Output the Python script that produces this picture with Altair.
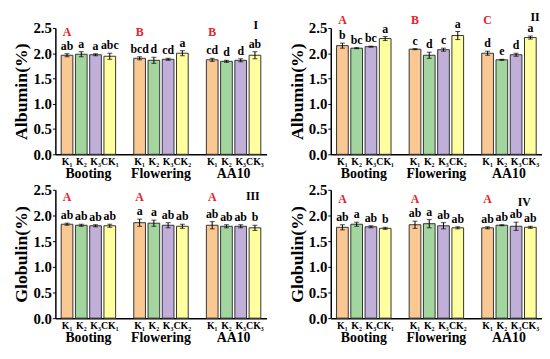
import altair as alt
import pandas as pd

groups = ["Booting", "Flowering", "AA10"]
treats = ["K1", "K2", "K3", "CK"]
colors = ["#F9C893", "#A3D69F", "#BFAFD9", "#FFFFA0"]
tick_labels = [
    ["K\u2081", "K\u2082", "K\u2083", "CK\u2081"],
    ["K\u2081", "K\u2082", "K\u2083", "CK\u2082"],
    ["K\u2081", "K\u2082", "K\u2083", "CK\u2083"],
]

# Panel I - Albumin
alb1_val = [[1.96, 1.98, 1.97, 1.94], [1.90, 1.86, 1.88, 2.00], [1.87, 1.84, 1.86, 1.96]]
alb1_err = [[0.03, 0.05, 0.02, 0.06], [0.03, 0.06, 0.02, 0.05], [0.03, 0.02, 0.03, 0.07]]
alb1_sig = [["ab", "a", "a", "abc"], ["bcd", "d", "cd", "a"], ["cd", "d", "d", "ab"]]
alb1_grp = ["A", "B", "B"]

# Panel II - Albumin
alb2_val = [[2.15, 2.10, 2.13, 2.29], [2.08, 1.96, 2.07, 2.35], [2.00, 1.87, 1.97, 2.31]]
alb2_err = [[0.05, 0.01, 0.01, 0.04], [0.01, 0.06, 0.03, 0.08], [0.04, 0.01, 0.03, 0.03]]
alb2_sig = [["b", "bc", "bc", "a"], ["c", "d", "c", "a"], ["d", "e", "d", "a"]]
alb2_grp = ["A", "B", "C"]

# Panel III - Globulin
glo1_val = [[1.83, 1.81, 1.80, 1.80], [1.86, 1.85, 1.81, 1.79], [1.81, 1.79, 1.79, 1.76]]
glo1_err = [[0.02, 0.02, 0.02, 0.03], [0.07, 0.06, 0.05, 0.04], [0.07, 0.03, 0.03, 0.05]]
glo1_sig = [["ab", "ab", "ab", "ab"], ["a", "a", "ab", "ab"], ["ab", "ab", "ab", "b"]]
glo1_grp = ["A", "A", "A"]

# Panel IV - Globulin
glo2_val = [[1.77, 1.83, 1.78, 1.75], [1.82, 1.84, 1.80, 1.76], [1.76, 1.81, 1.79, 1.77]]
glo2_err = [[0.05, 0.04, 0.02, 0.02], [0.07, 0.08, 0.06, 0.02], [0.02, 0.01, 0.08, 0.02]]
glo2_sig = [["ab", "a", "ab", "b"], ["ab", "a", "ab", "ab"], ["ab", "ab", "ab", "ab"]]
glo2_grp = ["A", "A", "A"]

FONT = "Liberation Serif"
Y_DOMAIN = [0, 2.5]


def make_df(vals, errs, sigs, grp):
    rows = []
    for gi, g in enumerate(groups):
        for ti, t in enumerate(treats):
            v = vals[gi][ti]
            e = errs[gi][ti]
            rows.append(dict(group=g, treat=t, value=v, lo=v - e, hi=v + e,
                             sig=sigs[gi][ti], tlabel=tick_labels[gi][ti],
                             gletter=grp[gi] if ti == 0 else ""))
    return pd.DataFrame(rows)


def ysc():
    return alt.Scale(domain=Y_DOMAIN, nice=False, zero=True)


def panel(df, title, numeral, letter_y, num_x, num_y, width, height):
    base = alt.Chart(df).encode(
        x=alt.X("group:N", sort=groups, title=None,
                scale=alt.Scale(paddingInner=0.25, paddingOuter=0.08),
                axis=alt.Axis(labelAngle=0, labelFont=FONT, labelFontWeight="bold",
                              labelFontSize=14, labelColor="black", labelPadding=13,
                              ticks=False, domainColor="black", domainWidth=1.5)),
        xOffset=alt.XOffset("treat:N", sort=treats, scale=alt.Scale(paddingInner=0.18)),
    )
    bars = base.mark_bar(stroke="#333333", strokeWidth=1).encode(
        y=alt.Y("value:Q", scale=ysc(),
                axis=alt.Axis(title=title, tickCount=5, format=".1f",
                              labelFont=FONT, labelFontWeight="bold", labelFontSize=15,
                              labelColor="black", labelPadding=1, tickSize=3,
                              labelOverlap=False, labelFlush=False,
                              tickColor="black", domainColor="black", domainWidth=1.5,
                              grid=False, titleFont=FONT, titleFontWeight="bold",
                              titleFontSize=18, titleColor="black", titlePadding=2)),
        color=alt.Color("treat:N", sort=treats,
                        scale=alt.Scale(domain=treats, range=colors), legend=None),
    )
    err = base.mark_rule(color="black", strokeWidth=1).encode(
        y=alt.Y("lo:Q", scale=ysc()), y2="hi:Q")
    cap_hi = base.mark_tick(orient="horizontal", size=5, thickness=1, color="black").encode(
        y=alt.Y("hi:Q", scale=ysc()))
    cap_lo = base.mark_tick(orient="horizontal", size=5, thickness=1, color="black").encode(
        y=alt.Y("lo:Q", scale=ysc()))
    sig = base.mark_text(baseline="bottom", dy=-1, font=FONT, fontWeight="bold",
                         fontSize=12, color="black").encode(
        y=alt.Y("hi:Q", scale=ysc()), text="sig:N")
    klab = base.mark_text(baseline="top", dy=3, font=FONT, fontWeight="bold",
                          fontSize=10, color="black").encode(
        y=alt.Y(datum=0, scale=ysc()), text="tlabel:N")
    glet = base.transform_filter(alt.datum.gletter != "").mark_text(
        font=FONT, fontWeight="bold", fontSize=12, color="#E8202A"
    ).encode(y=alt.Y(datum=letter_y, scale=ysc()), text="gletter:N")
    num = alt.Chart(pd.DataFrame({"t": [numeral]})).mark_text(
        font=FONT, fontWeight="bold", fontSize=12, color="black"
    ).encode(x=alt.value(num_x), y=alt.Y(datum=num_y, scale=ysc()), text="t:N")
    return alt.layer(bars, err, cap_hi, cap_lo, sig, klab, glet, num).properties(
        width=width, height=height)


p1 = panel(make_df(alb1_val, alb1_err, alb1_sig, alb1_grp), "Albumin(%)", "I", 2.42, 203, 2.56, 214, 128)
p2 = panel(make_df(alb2_val, alb2_err, alb2_sig, alb2_grp), "Albumin(%)", "II", 2.65, 207, 2.72, 214, 128)
p3 = panel(make_df(glo1_val, glo1_err, glo1_sig, glo1_grp), "Globulin(%)", "III", 2.35, 200, 2.37, 214, 130)
p4 = panel(make_df(glo2_val, glo2_err, glo2_sig, glo2_grp), "Globulin(%)", "IV", 2.33, 196, 2.27, 214, 130)

chart = alt.vconcat(
    alt.hconcat(p1, p2, spacing=22),
    alt.hconcat(p3, p4, spacing=22),
    spacing=2,
).configure_view(stroke=None).properties(
    background="white",
    padding={"left": 5, "top": 0, "right": 0, "bottom": 0},
)

chart.save("out.html", embed_options={"renderer": "svg", "actions": False})
